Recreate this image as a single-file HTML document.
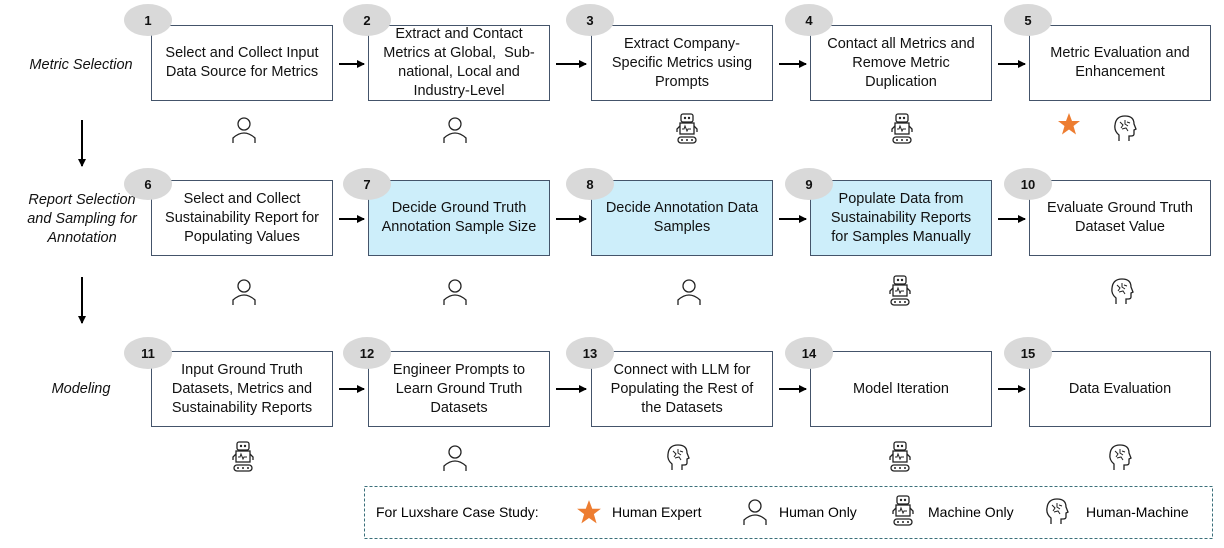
<!DOCTYPE html>
<html><head><meta charset="utf-8"><style>
body{margin:0;width:1224px;height:548px;background:#fff;position:relative;font-family:"Liberation Sans",sans-serif;overflow:hidden}
.b{position:absolute;width:182px;height:76px;border:1px solid #44546a;box-sizing:border-box;display:flex;align-items:center;justify-content:center;text-align:center;font-size:14.5px;line-height:19px;color:#111;padding:0 2px;background:#fff;white-space:nowrap}
.bl{background:#cdeefa}
.e{position:absolute;width:48px;height:32px;border-radius:50%;background:#d9d9d9;font-size:13px;font-weight:bold;display:flex;align-items:center;justify-content:center;color:#111}
.l{position:absolute;font-style:italic;font-size:14.5px;text-align:center;color:#111;line-height:19px}
.ic{position:absolute}
</style></head><body>
<svg width="0" height="0" style="position:absolute">
<defs>
<symbol id="hu" viewBox="0 0 26 28"><circle cx="13" cy="8" r="6" fill="none" stroke="#222" stroke-width="1.3"/><path d="M2 27 V22 Q13 12 24 22 V27" fill="none" stroke="#222" stroke-width="1.3"/></symbol>
<symbol id="ro" viewBox="0 0 26 34"><rect x="7" y="2" width="12" height="8" rx="2" fill="none" stroke="#222" stroke-width="1.3"/><circle cx="11" cy="6" r="1.2" fill="#222"/><circle cx="15" cy="6" r="1.2" fill="#222"/><rect x="6" y="11" width="14" height="11" fill="none" stroke="#222" stroke-width="1.3"/><path d="M8 17 l2 0 l1 -3 l2 5 l1 -2 l3 0" fill="none" stroke="#222"/><path d="M6 14 l-3 3 v3 M20 14 l3 3 v3" fill="none" stroke="#222" stroke-width="1.3"/><rect x="4" y="25" width="18" height="6" rx="3" fill="none" stroke="#222" stroke-width="1.3"/><circle cx="8" cy="28" r="1" fill="#222"/><circle cx="13" cy="28" r="1" fill="#222"/><circle cx="18" cy="28" r="1" fill="#222"/></symbol>
<symbol id="hm" viewBox="0 0 24 28"><path d="M6 27 V21 Q1 17 2 11 Q3 2 12 2 Q21 2 21 10 L23 15 L21 16 V20 Q21 22 18 22 H16 V27" fill="none" stroke="#222" stroke-width="1.3"/><path d="M7 8 l3 3 l-2 3 M12 6 l0 4 l3 2 M9 15 l4 -1 l2 3 M14 8 l3 1" fill="none" stroke="#222" stroke-width="1"/></symbol>
<symbol id="st" viewBox="0 0 24 24"><polygon points="12,1 15,9 23,9 16.5,14 19,22.5 12,17.5 5,22.5 7.5,14 1,9 9,9" fill="#ed7d31"/></symbol>
<marker id="ar" markerWidth="8" markerHeight="8" refX="7" refY="4" orient="auto" markerUnits="userSpaceOnUse"><path d="M0,0 L8,4 L0,8z" fill="#000"/></marker>
</defs></svg>
<svg class="ic" style="left:0;top:0" width="1224" height="548">
<g stroke="#000" stroke-width="2" marker-end="url(#ar)">
<line x1="339" y1="64" x2="364" y2="64"/><line x1="556" y1="64" x2="586" y2="64"/><line x1="779" y1="64" x2="806" y2="64"/><line x1="998" y1="64" x2="1025" y2="64"/>
<line x1="339" y1="219" x2="364" y2="219"/><line x1="556" y1="219" x2="586" y2="219"/><line x1="779" y1="219" x2="806" y2="219"/><line x1="998" y1="219" x2="1025" y2="219"/>
<line x1="339" y1="389" x2="364" y2="389"/><line x1="556" y1="389" x2="586" y2="389"/><line x1="779" y1="389" x2="806" y2="389"/><line x1="998" y1="389" x2="1025" y2="389"/>
<line x1="82" y1="120" x2="82" y2="166"/><line x1="82" y1="277" x2="82" y2="323"/>
</g>
<rect x="364.5" y="486.5" width="848" height="52" fill="none" stroke="#3a6f7a" stroke-dasharray="3,2"/>
</svg>
<div class="l" style="left:20px;top:56px;width:122px">Metric Selection</div>
<div class="l" style="left:14px;top:191px;width:136px">Report Selection<br>and Sampling for<br>Annotation</div>
<div class="l" style="left:20px;top:380px;width:122px">Modeling</div>

<div class="b" style="left:151px;top:25px">Select and Collect Input<br>Data Source for Metrics</div>
<div class="b" style="left:368px;top:25px">Extract and Contact<br>Metrics at Global,&nbsp; Sub-<br>national, Local and<br>Industry-Level</div>
<div class="b" style="left:591px;top:25px">Extract Company-<br>Specific Metrics using<br>Prompts</div>
<div class="b" style="left:810px;top:25px">Contact all Metrics and<br>Remove Metric<br>Duplication</div>
<div class="b" style="left:1029px;top:25px">Metric Evaluation and<br>Enhancement</div>
<div class="b" style="left:151px;top:180px">Select and Collect<br>Sustainability Report for<br>Populating Values</div>
<div class="b bl" style="left:368px;top:180px">Decide Ground Truth<br>Annotation Sample Size</div>
<div class="b bl" style="left:591px;top:180px">Decide Annotation Data<br>Samples</div>
<div class="b bl" style="left:810px;top:180px">Populate Data from<br>Sustainability Reports<br>for Samples Manually</div>
<div class="b" style="left:1029px;top:180px">Evaluate Ground Truth<br>Dataset Value</div>
<div class="b" style="left:151px;top:351px">Input Ground Truth<br>Datasets, Metrics and<br>Sustainability Reports</div>
<div class="b" style="left:368px;top:351px">Engineer Prompts to<br>Learn Ground Truth<br>Datasets</div>
<div class="b" style="left:591px;top:351px">Connect with LLM for<br>Populating the Rest of<br>the Datasets</div>
<div class="b" style="left:810px;top:351px">Model Iteration</div>
<div class="b" style="left:1029px;top:351px">Data Evaluation</div>

<div class="e" style="left:124px;top:4px">1</div><div class="e" style="left:343px;top:4px">2</div><div class="e" style="left:566px;top:4px">3</div><div class="e" style="left:785px;top:4px">4</div><div class="e" style="left:1004px;top:4px">5</div>
<div class="e" style="left:124px;top:168px">6</div><div class="e" style="left:343px;top:168px">7</div><div class="e" style="left:566px;top:168px">8</div><div class="e" style="left:785px;top:168px">9</div><div class="e" style="left:1004px;top:168px">10</div>
<div class="e" style="left:124px;top:337px">11</div><div class="e" style="left:343px;top:337px">12</div><div class="e" style="left:566px;top:337px">13</div><div class="e" style="left:785px;top:337px">14</div><div class="e" style="left:1004px;top:337px">15</div>

<svg class="ic" style="left:231px;top:116px" width="26" height="28"><use href="#hu"/></svg>
<svg class="ic" style="left:442px;top:116px" width="26" height="28"><use href="#hu"/></svg>
<svg class="ic" style="left:674px;top:112px" width="26" height="34"><use href="#ro"/></svg>
<svg class="ic" style="left:889px;top:112px" width="26" height="34"><use href="#ro"/></svg>
<svg class="ic" style="left:1057px;top:112px" width="24" height="24"><use href="#st"/></svg>
<svg class="ic" style="left:1113px;top:114px" width="24" height="28"><use href="#hm"/></svg>
<svg class="ic" style="left:231px;top:278px" width="26" height="28"><use href="#hu"/></svg>
<svg class="ic" style="left:442px;top:278px" width="26" height="28"><use href="#hu"/></svg>
<svg class="ic" style="left:676px;top:278px" width="26" height="28"><use href="#hu"/></svg>
<svg class="ic" style="left:887px;top:274px" width="26" height="34"><use href="#ro"/></svg>
<svg class="ic" style="left:1110px;top:277px" width="24" height="28"><use href="#hm"/></svg>
<svg class="ic" style="left:230px;top:440px" width="26" height="34"><use href="#ro"/></svg>
<svg class="ic" style="left:442px;top:444px" width="26" height="28"><use href="#hu"/></svg>
<svg class="ic" style="left:666px;top:443px" width="24" height="28"><use href="#hm"/></svg>
<svg class="ic" style="left:887px;top:440px" width="26" height="34"><use href="#ro"/></svg>
<svg class="ic" style="left:1108px;top:443px" width="24" height="28"><use href="#hm"/></svg>

<div style="position:absolute;left:376px;top:504px;font-size:14px">For Luxshare Case Study:</div>
<svg class="ic" style="left:576px;top:499px" width="26" height="26"><use href="#st"/></svg>
<div style="position:absolute;left:612px;top:504px;font-size:14px">Human Expert</div>
<svg class="ic" style="left:742px;top:498px" width="26" height="28"><use href="#hu"/></svg>
<div style="position:absolute;left:779px;top:504px;font-size:14px">Human Only</div>
<svg class="ic" style="left:890px;top:494px" width="26" height="34"><use href="#ro"/></svg>
<div style="position:absolute;left:928px;top:504px;font-size:14px">Machine Only</div>
<svg class="ic" style="left:1045px;top:497px" width="24" height="28"><use href="#hm"/></svg>
<div style="position:absolute;left:1086px;top:504px;font-size:14px">Human-Machine</div>
</body></html>
